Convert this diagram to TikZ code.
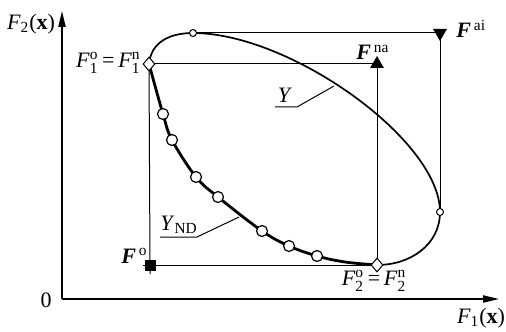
\documentclass[tikz,border=0pt]{standalone}
\usepackage{fontspec}
\usepackage{amsmath}
\setmainfont{Liberation Serif}
\usetikzlibrary{arrows.meta,shapes.geometric}
\newcommand\bF{\textbf{\textit{F}}}
\newcommand\iF{\textit{F}}
\tikzset{
  axisline/.style={line width=0.75pt,-{Triangle[length=8pt,width=3.6pt]}},
  thinline/.style={line width=0.5pt},
  curveline/.style={line width=0.85pt},
  frontline/.style={line width=1.4pt},
  dia/.style={diamond,draw,fill=white,inner sep=0pt,minimum width=6pt,minimum height=7pt,line width=0.5pt},
  bigc/.style={circle,draw,fill=white,inner sep=0pt,minimum size=5.5pt,line width=0.6pt},
  smallc/.style={circle,draw,fill=white,inner sep=0pt,minimum size=3.5pt,line width=0.5pt},
  sq/.style={rectangle,fill=black,inner sep=0pt,minimum size=5.5pt},
  tri/.style={regular polygon,regular polygon sides=3,fill=black,inner sep=0pt,minimum size=8pt},
  lbl/.style={inner sep=0pt}
}
\begin{document}
\begin{tikzpicture}[x=0.5pt,y=-0.5pt,font=\fontsize{11}{13}\selectfont]
\useasboundingbox (0,0) rectangle (506,331);
% positions
\coordinate (O) at (62,299);
\coordinate (ytip) at (62,11);
\coordinate (xtip) at (499,299);
\coordinate (cF1) at (149,64);
\coordinate (cF2) at (377,265);
\coordinate (cFo) at (150,265);
\coordinate (cFna) at (377,64);
\coordinate (cFai) at (440,33);
\coordinate (ctop) at (193,33);
\coordinate (cright) at (440,212);
% axes
\draw[axisline] (O) -- (ytip);
\draw[axisline] (O) -- (xtip);
% guide lines
\draw[thinline] (ctop) -- (cFai);
\draw[thinline] (cFai) -- (cright);
\draw[thinline] (cF1) -- (cFna);
\draw[thinline] (cFna) -- (cF2);
\draw[thinline,shorten >=-4.5pt] (cF1) -- (cFo);
\draw[thinline,shorten <=-3.5pt] (cFo) -- (cF2);
% curve Y
\draw[curveline] (cF1) .. controls (151,42) and (170,33) .. (ctop)
  .. controls (290,33) and (440,140) .. (cright)
  .. controls (440,245) and (410,265) .. (cF2);
% Pareto front
\draw[frontline] plot[smooth,tension=0.6] coordinates {(149,64) (163,114) (172,140) (196,177) (218,197) (262,231) (289,246) (317,256) (345,262) (377,265)};
% markers
\node[dia] (F1) at (cF1) {};
\node[dia] (F2) at (cF2) {};
\node[sq] (Fo) at (cFo) {};
\node[tri] (Fna) at (cFna) {};
\node[tri,shape border rotate=180] (Fai) at (cFai) {};
\node[smallc] (ptop) at (ctop) {};
\node[smallc] (pright) at (cright) {};
\foreach \i/\p in {1/{(163,114)},2/{(172,140)},3/{(196,177)},4/{(218,197)},5/{(262,231)},6/{(289,246)},7/{(317,256)}}
  \node[bigc] (p\i) at \p {};
% leader lines
\coordinate (yA) at (275,107);
\coordinate (yB) at (297,107);
\coordinate (yC) at (334,86);
\draw[thinline] (yA) -- (yB) -- (yC);
\coordinate (ndA) at (160,237);
\coordinate (ndB) at (197,237);
\coordinate (ndC) at (239,217);
\draw[thinline] (ndA) -- (ndB) -- (ndC);
% labels
\node[lbl] (lF2) at (31,24) {\iF$_{\text{2}}$(\textbf{x})};
\node[lbl] (lF1) at (481,318) {\iF$_{\text{1}}$(\textbf{x})};
\node[lbl] (l0) at (46,300) {0};
\node[lbl,anchor=east] (lf1) at (141,63) {\iF$_{\text{1}}^{\text{o}}$\,=\,\iF$_{\text{1}}^{\text{n}}$};
\node[lbl] (lf2) at (374,281) {\iF$_{\text{2}}^{\text{o}}$\,=\,\iF$_{\text{2}}^{\text{n}}$};
\node[lbl,anchor=base west] (lFo) at (121,263) {\bF$^{\,\text{o}}$};
\node[lbl,anchor=base west] (lFna) at (356,60) {\bF$^{\,\text{na}}$};
\node[lbl,anchor=base west] (lFai) at (456,38) {\bF$^{\,\text{ai}}$};
\node[lbl] (lY) at (285,95) {\textit{Y}};
\node[lbl,anchor=base west] (lYnd) at (160,230) {\textit{Y}$_{\text{ND}}$};
\end{tikzpicture}
\end{document}
